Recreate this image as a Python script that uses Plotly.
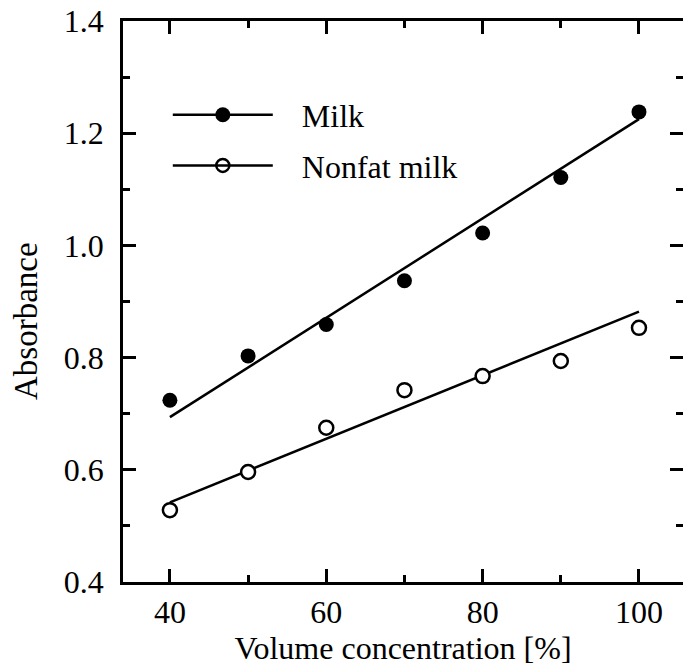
import plotly.graph_objects as go

# Data
conc = [40, 50, 60, 70, 80, 90, 100]
milk = [0.724, 0.803, 0.859, 0.937, 1.022, 1.121, 1.238]
nonfat = [0.528, 0.596, 0.675, 0.742, 0.767, 0.794, 0.853]
fit_x = [40, 100]
milk_fit = [0.694, 1.225]
nonfat_fit = [0.542, 0.882]
x_ticks = [40, 60, 80, 100]
y_ticks = [0.4, 0.6, 0.8, 1.0, 1.2, 1.4]
names = ["Milk", "Nonfat milk"]
x_title = "Volume concentration [%]"
y_title = "Absorbance"

FONT = "Liberation Serif, Times New Roman, serif"
FS = 32
PAD = "\u00a0\u00a0\u00a0"
fig = go.Figure()

# legend-only entries (line + marker)
fig.add_trace(go.Scatter(x=[None], y=[None], mode="lines+markers", name=PAD + names[0],
                         legendgroup="a",
                         line=dict(color="black", width=2.5),
                         marker=dict(symbol="circle", size=15, color="black")))
fig.add_trace(go.Scatter(x=[None], y=[None], mode="lines+markers", name=PAD + names[1],
                         legendgroup="b",
                         line=dict(color="black", width=2.5),
                         marker=dict(symbol="circle-open", size=13, color="black",
                                     line=dict(width=2.5, color="black"))))

# fit lines
fig.add_trace(go.Scatter(x=fit_x, y=milk_fit, mode="lines", showlegend=False,
                         line=dict(color="black", width=2.5)))
fig.add_trace(go.Scatter(x=fit_x, y=nonfat_fit, mode="lines", showlegend=False,
                         line=dict(color="black", width=2.5)))
# data points
fig.add_trace(go.Scatter(x=conc, y=milk, mode="markers", showlegend=False,
                         marker=dict(symbol="circle", size=15, color="black")))
fig.add_trace(go.Scatter(x=conc, y=nonfat, mode="markers", showlegend=False,
                         marker=dict(symbol="circle", size=14, color="white",
                                     line=dict(width=2.5, color="black"))))

# invisible trace carrying the top / right tick axes
fig.add_trace(go.Scatter(x=[None], y=[None], xaxis="x2", yaxis="y2", showlegend=False))

axis_common = dict(showgrid=False, zeroline=False, ticks="inside",
                   tickcolor="black", tickwidth=2.5, color="black",
                   tickfont=dict(family=FONT, size=FS, color="black"))
minor_x = dict(dtick=10, tick0=0, ticks="inside", ticklen=7, tickwidth=2.5, tickcolor="black")
minor_y = dict(dtick=0.1, tick0=0, ticks="inside", ticklen=7, tickwidth=2.5, tickcolor="black")
x_range = [34, 105.63]
y_range = [0.4, 1.4]

fig.update_layout(
    width=683, height=669,
    margin=dict(l=123, r=0, t=21, b=87, autoexpand=False),
    paper_bgcolor="white", plot_bgcolor="white",
    font=dict(family=FONT, size=FS, color="black"),
    showlegend=True,
    legend=dict(x=0.08, y=0.787, xanchor="left", yanchor="middle",
                bgcolor="rgba(0,0,0,0)", itemwidth=100,
                font=dict(family=FONT, size=FS, color="black"),
                tracegroupgap=6),
    xaxis=dict(range=x_range, tickvals=x_ticks, ticklen=13,
               showline=True, linecolor="black", linewidth=2.5, mirror=True,
               minor=minor_x,
               title=dict(text=x_title, standoff=5,
                          font=dict(family=FONT, size=FS, color="black")),
               **axis_common),
    yaxis=dict(range=y_range, tickvals=y_ticks, tickformat=".1f", ticklen=13,
               showline=True, linecolor="black", linewidth=2.5, mirror=False,
               ticklabelstandoff=10, ticklabeloverflow="allow",
               minor=minor_y, **axis_common),
    xaxis2=dict(range=x_range, tickvals=x_ticks, ticklen=13, overlaying="x",
                side="top", anchor="y", showline=False, showticklabels=False,
                showgrid=False, zeroline=False, ticks="inside", tickcolor="black",
                tickwidth=2.5, minor=minor_x),
    yaxis2=dict(range=y_range, tickvals=y_ticks, ticklen=13, overlaying="y",
                side="right", anchor="x", showline=False, showticklabels=False,
                showgrid=False, zeroline=False, ticks="inside", tickcolor="black",
                tickwidth=2.5, minor=minor_y),
    annotations=[dict(text=y_title, xref="paper", yref="paper",
                      x=-0.1732, y=0.4652, xanchor="center", yanchor="middle",
                      textangle=-90, showarrow=False,
                      font=dict(family=FONT, size=33, color="black"))],
)

fig.write_html("out.html", config={"displayModeBar": False},
               post_script="document.body.style.margin='0';document.body.style.overflow='hidden';")
